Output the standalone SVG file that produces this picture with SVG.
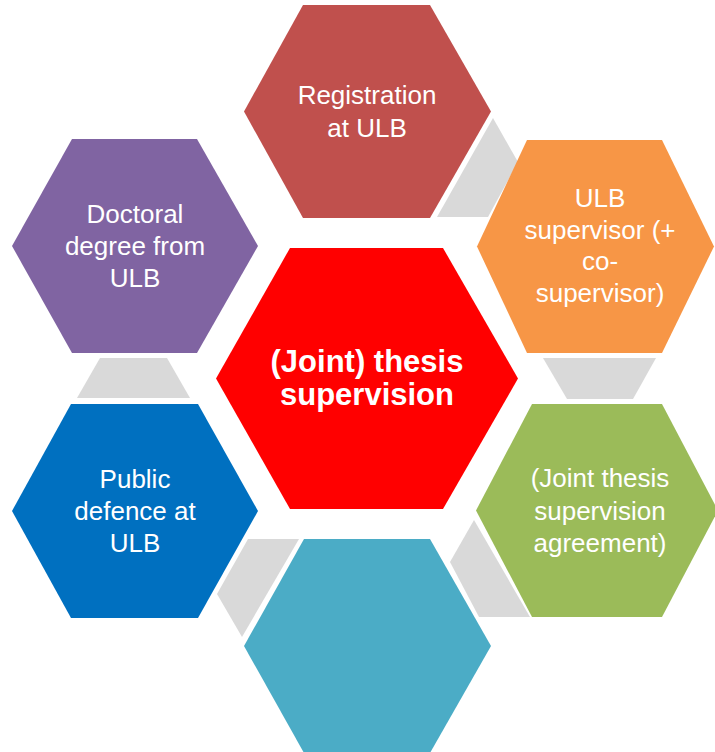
<svg xmlns="http://www.w3.org/2000/svg" width="715" height="752" viewBox="0 0 715 752">
<style>
  .t { font-family: "Liberation Sans", Arial, sans-serif; font-size: 26px; fill: #FFFFFF; text-anchor: middle; }
  .c { font-family: "Liberation Sans", Arial, sans-serif; font-size: 31px; font-weight: bold; fill: #FFFFFF; text-anchor: middle; }
  .conn { fill: #D9D9D9; }
</style>
<rect width="715" height="752" fill="#FFFFFF"/>
<g id="connectors">
  <polygon class="conn" points="493,118 518,162 488,217 437,217"/>
  <polygon class="conn" points="543,358 656,358 633,399 567,399"/>
  <polygon class="conn" points="474,520 530,617 479,617 450,562"/>
  <polygon class="conn" points="248,539 299,539 242,637 217,594"/>
  <polygon class="conn" points="100,358 167,358 190,398 77,398"/>
</g>
<g id="center">
  <polygon fill="#FF0000" points="290,248 443,248 518,378.5 443,509 290,509 216,378.5"/>
  <text class="c" x="367" y="372">(Joint) thesis</text>
  <text class="c" x="367" y="405">supervision</text>
</g>
<g id="registration">
  <polygon fill="#C0504D" points="303,5 430,5 491,111.5 430,218 303,218 244,111.5"/>
  <text class="t" x="367" y="103.5">Registration</text>
  <text class="t" x="367" y="136.5">at ULB</text>
</g>
<g id="supervisor">
  <polygon fill="#F79646" points="527,140 662,140 714,246.5 662,353 527,353 477,246.5"/>
  <text class="t" x="600" y="207">ULB</text>
  <text class="t" x="600" y="238.5">supervisor (+</text>
  <text class="t" x="600" y="270">co-</text>
  <text class="t" x="600" y="302">supervisor)</text>
</g>
<g id="agreement">
  <polygon fill="#9BBB59" points="532,404 662,404 718,510.5 662,617 532,617 476,510.5"/>
  <text class="t" x="600" y="487">(Joint thesis</text>
  <text class="t" x="600" y="519.5">supervision</text>
  <text class="t" x="600" y="552">agreement)</text>
</g>
<g id="blank">
  <polygon fill="#4BACC6" points="304,539 430,539 491,646 430,753 304,753 244,646"/>
</g>
<g id="defence">
  <polygon fill="#0070C0" points="71,404 198,404 258,511 198,618 71,618 12,511"/>
  <text class="t" x="135" y="488">Public</text>
  <text class="t" x="135" y="520">defence at</text>
  <text class="t" x="135" y="552">ULB</text>
</g>
<g id="degree">
  <polygon fill="#8064A2" points="72,139 197,139 258,246 197,353 72,353 12,246"/>
  <text class="t" x="135" y="223">Doctoral</text>
  <text class="t" x="135" y="255">degree from</text>
  <text class="t" x="135" y="287">ULB</text>
</g>
</svg>
